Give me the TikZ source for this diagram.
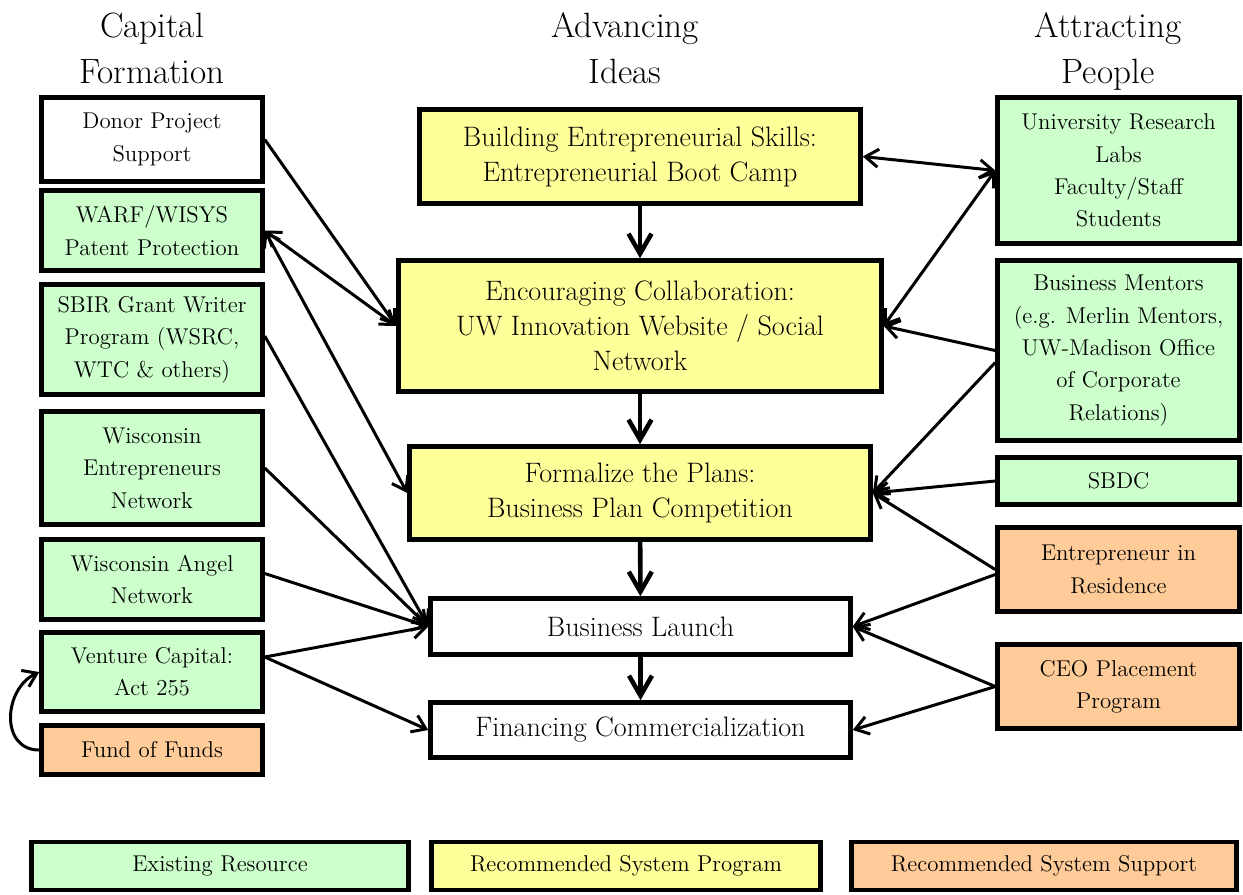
\documentclass[tikz,border=0pt]{standalone}
\usepackage{fontspec}
\usetikzlibrary{arrows.meta}
\definecolor{resgreen}{HTML}{CCFFCC}
\definecolor{progyellow}{HTML}{FFFF99}
\definecolor{suppbeige}{HTML}{FFCC99}
\newcommand{\sidefont}{\fontsize{13}{18.4}\selectfont}
\newcommand{\midfont}{\fontsize{16}{20}\selectfont}
\newcommand{\headfont}{\fontsize{20}{26.2}\selectfont}
\begin{document}
\begin{tikzpicture}[x=0.02cm,y=-0.02cm,
    box/.style={draw=black,line width=2.6pt,align=center,inner sep=0pt},
    leftbox/.style={box,font=\sidefont,minimum width=4.42cm},
    rightbox/.style={box,font=\sidefont,minimum width=4.84cm},
    midbox/.style={box,font=\midfont},
    legbox/.style={box,font=\sidefont,minimum height=0.96cm},
    head/.style={align=center,font=\headfont,inner sep=0pt,anchor=north},
    resource/.style={fill=resgreen},
    program/.style={fill=progyellow},
    support/.style={fill=suppbeige},
    link/.style={line width=1.7pt},
    flow/.style={line width=2.6pt,-{Straight Barb[length=4mm,width=4.6mm]}},
    >={Straight Barb[length=2.6mm,width=3.6mm]}]
    \useasboundingbox (0,0) rectangle (1243,894);

    \node[head] (capital) at (152,12.5) {Capital\\Formation};
    \node[head] (ideas) at (625,12.5) {Advancing\\Ideas};
    \node[head] (people) at (1108,12.5) {Attracting\\People};

    \node[leftbox,minimum height=1.68cm] (donor) at (152,139.5) {Donor Project\\Support};
    \node[leftbox,resource,minimum height=1.6cm] (warf) at (152,230.5) {WARF/WISYS\\Patent Protection};
    \node[leftbox,resource,minimum height=2.2cm] (sbir) at (152,339.5) {SBIR Grant Writer\\Program (WSRC,\\WTC \& others)};
    \node[leftbox,resource,minimum height=2.26cm] (wen) at (152,468) {Wisconsin\\Entrepreneurs\\Network};
    \node[leftbox,resource,minimum height=1.6cm] (angel) at (152,579.5) {Wisconsin Angel\\Network};
    \node[leftbox,resource,minimum height=1.58cm] (vc) at (152,672) {Venture Capital:\\Act 255};
    \node[leftbox,support,minimum height=0.98cm] (fund) at (152,750) {Fund of Funds};

    \node[midbox,program,minimum width=8.82cm,minimum height=1.88cm] (skills) at (640,156.5) {Building Entrepreneurial Skills:\\Entrepreneurial Boot Camp};
    \node[midbox,program,minimum width=9.66cm,minimum height=2.62cm] (collab) at (640,326) {Encouraging Collaboration:\\UW Innovation Website / Social\\Network};
    \node[midbox,program,minimum width=9.22cm,minimum height=1.86cm] (plans) at (640,493) {Formalize the Plans:\\Business Plan Competition};
    \node[midbox,minimum width=8.4cm,minimum height=1.12cm] (launch) at (640.5,626.5) {Business Launch};
    \node[midbox,minimum width=8.4cm,minimum height=1.1cm] (financing) at (640.5,730) {Financing Commercialization};

    \node[rightbox,resource,minimum height=2.92cm] (labs) at (1118.5,170.5) {University Research\\Labs\\Faculty/Staff\\Students};
    \node[rightbox,resource,minimum height=3.6cm] (mentors) at (1118.5,350.5) {Business Mentors\\(e.g. Merlin Mentors,\\UW-Madison Office\\of Corporate\\Relations)};
    \node[rightbox,resource,minimum height=0.94cm] (sbdc) at (1118.5,481) {SBDC};
    \node[rightbox,support,minimum height=1.68cm] (eir) at (1118.5,569.5) {Entrepreneur in\\Residence};
    \node[rightbox,support,minimum height=1.68cm] (ceo) at (1118.5,686.5) {CEO Placement\\Program};

    \node[legbox,resource,minimum width=7.54cm] (legexist) at (220,866) {Existing Resource};
    \node[legbox,program,minimum width=7.78cm] (legprog) at (626,866) {Recommended System Program};
    \node[legbox,support,minimum width=7.7cm] (legsupp) at (1044,866) {Recommended System Support};

    \path [flow] (skills) edge (collab);
    \path [flow] (collab) edge (plans);
    \path [flow] (plans) edge (launch);
    \path [flow] (launch) edge (financing);

    \path [link,->] (donor.east) edge (collab.west);
    \path [link,<->] (warf.east) edge (collab.west);
    \path [link,<->] (warf.east) edge (plans.west);
    \path [link,->] ([yshift=0.7mm]sbir.east) edge (launch.west);
    \path [link,->] (wen.east) edge (launch.west);
    \path [link,->] ([yshift=1.2mm]angel.east) edge (launch.west);
    \path [link,->] ([yshift=3mm]vc.east) edge (launch.west);
    \path [link,->] ([yshift=3mm]vc.east) edge (financing.west);
    \path [link,->] (fund.west) edge[out=180,in=205,looseness=1.3] (vc.west);

    \path [link,<->] (skills.east) edge (labs.west);
    \path [link,<->] (labs.west) edge (collab.east);
    \path [link,->] (mentors.west) edge (collab.east);
    \path [link,->] ([yshift=-2.4mm]mentors.west) edge (plans.east);
    \path [link,->] (sbdc.west) edge (plans.east);
    \path [link,->] (eir.west) edge (plans.east);
    \path [link,->] ([yshift=-1mm]eir.west) edge (launch.east);
    \path [link,->] (ceo.west) edge (launch.east);
    \path [link,->] (ceo.west) edge (financing.east);
\end{tikzpicture}
\end{document}
